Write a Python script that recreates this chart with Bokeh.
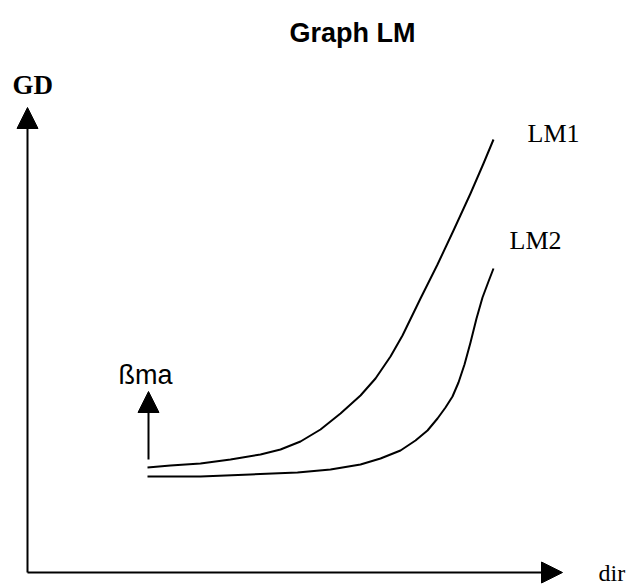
from bokeh.plotting import figure
from bokeh.models import Range1d, Arrow, NormalHead
from bokeh.core.properties import value
from bokeh.embed import file_html
from bokeh.resources import INLINE

# ---- data (screen-like coordinates, y grows downward) ----
lm1_x = [147, 170, 200, 230, 260, 280, 300, 320, 340, 360, 375, 390, 402, 420, 437, 453, 470, 483, 493]
lm1_y = [467, 465, 463, 459, 454, 449, 441, 429, 413, 395, 378, 356, 335, 298, 264, 230, 193, 163, 139]

lm2_x = [147, 200, 250, 297, 330, 360, 380, 400, 415, 427, 437, 445, 452, 458, 464, 470, 476, 482, 488, 493]
lm2_y = [476, 476, 474, 472, 469, 464, 458, 450, 440, 430, 418, 407, 396, 382, 364, 342, 318, 297, 281, 268]

# axis geometry: origin, ends of the two axes and the small shift arrow
origin = (27, 572)
y_axis_tip = 107
x_axis_tip = 562
shift_arrow_x = 148
shift_arrow_from_to = (459, 391)

# labels
title_text = "Graph LM"
y_label = "GD"
x_label = "dir"
curve_labels = ["LM1", "LM2"]
curve_label_x = [527, 509]
curve_label_y = [133, 240]
shift_label = "ßma"

p = figure(width=634, height=585, output_backend="svg", toolbar_location=None,
           x_range=Range1d(0, 634), y_range=Range1d(585, 0),
           min_border=0, outline_line_color=None)
p.xaxis.visible = False
p.yaxis.visible = False
p.xgrid.visible = False
p.ygrid.visible = False
p.background_fill_color = "white"
p.border_fill_color = "white"

# curves
p.line(lm1_x, lm1_y, line_color="black", line_width=2, line_join="round")
p.line(lm2_x, lm2_y, line_color="black", line_width=2, line_join="round")

# axes arrows
head = dict(size=21, fill_color="black", line_color="black", line_width=1)
p.add_layout(Arrow(x_start=origin[0], y_start=origin[1], x_end=origin[0], y_end=y_axis_tip,
                   line_width=2, line_color="black", end=NormalHead(**head)))
p.add_layout(Arrow(x_start=origin[0], y_start=origin[1], x_end=x_axis_tip, y_end=origin[1],
                   line_width=2, line_color="black", end=NormalHead(**head)))
p.add_layout(Arrow(x_start=shift_arrow_x, y_start=shift_arrow_from_to[0],
                   x_end=shift_arrow_x, y_end=shift_arrow_from_to[1],
                   line_width=2, line_color="black", end=NormalHead(**head)))

# texts
p.text(x=[352], y=[32], text=[title_text], text_font=value("Liberation Sans"),
       text_font_style="bold", text_font_size="27px", text_align="center",
       text_baseline="alphabetic", text_color="black")
p.text(x=[12], y=[84], text=[y_label], text_font=value("Liberation Serif"),
       text_font_style="bold", text_font_size="27px", text_align="left",
       text_baseline="alphabetic", text_color="black")
p.text(x=curve_label_x, y=curve_label_y, text=curve_labels, text_font=value("Liberation Serif"),
       text_font_size="26px", text_align="left", text_baseline="alphabetic", text_color="black")
p.text(x=[598], y=[572], text=[x_label], text_font=value("Liberation Serif"),
       text_font_size="24px", text_align="left", text_baseline="middle", text_color="black")
p.text(x=[118], y=[374], text=[shift_label], text_font=value("Liberation Sans"),
       text_font_size="27px", text_align="left", text_baseline="alphabetic", text_color="black")

open("out.html", "w").write(file_html(p, INLINE))
